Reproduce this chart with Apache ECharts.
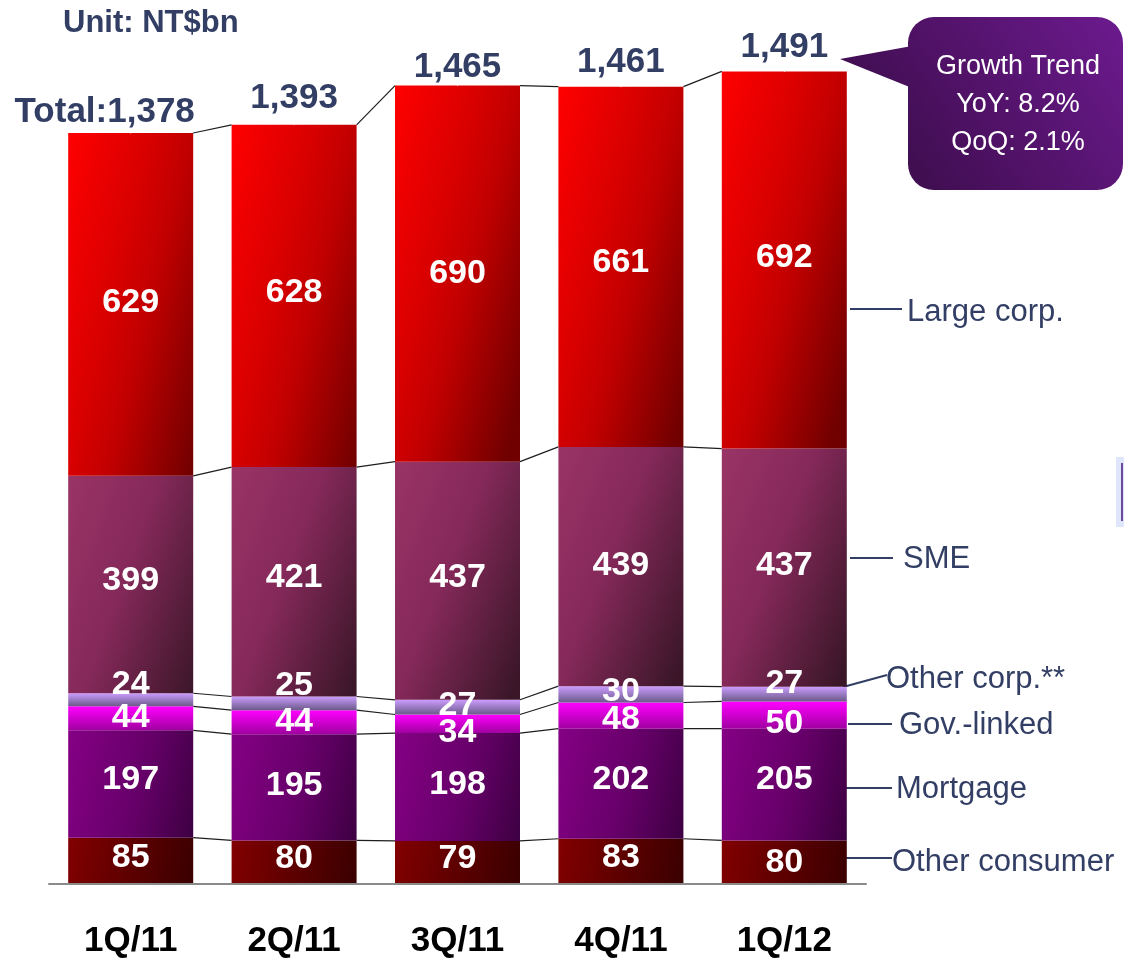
<!DOCTYPE html>
<html><head><meta charset="utf-8">
<script src="https://cdn.jsdelivr.net/npm/echarts@6/dist/echarts.min.js"></script>
<style>html,body{margin:0;padding:0;background:#fff}#c{width:1124px;height:960px}</style>
</head><body><div id="c"></div>
<script>
// ---- data ----
const categories = ['1Q/11', '2Q/11', '3Q/11', '4Q/11', '1Q/12'];
const seriesNames = ['Other consumer', 'Mortgage', 'Gov.-linked', 'Other corp.**', 'SME', 'Large corp.'];
const otherConsumer = [85, 80, 79, 83, 80];
const mortgage = [197, 195, 198, 202, 205];
const govLinked = [44, 44, 34, 48, 50];
const otherCorp = [24, 25, 27, 30, 27];
const sme = [399, 421, 437, 439, 437];
const largeCorp = [629, 628, 690, 661, 692];
const totals = [1378, 1393, 1465, 1461, 1491];
const unitText = 'Unit: NT$bn';
const totalPrefix = 'Total:';
const calloutLines = ['Growth Trend', 'YoY: 8.2%', 'QoQ: 2.1%'];

const values = [otherConsumer, mortgage, govLinked, otherCorp, sme, largeCorp];

// ---- styles ----
const FONT = 'Liberation Sans, Arial, Helvetica, sans-serif';
const NAVY = '#323e64';
function grad(x2, y2, stops) {
  return { type: 'linear', x: 0, y: 0, x2: x2, y2: y2,
    colorStops: stops.map(s => ({ offset: s[0], color: s[1] })) };
}
const fills = [
  grad(1.2, 0.6, [[0, '#820000'], [1, '#2e0000']]),
  grad(1.3, 0.35, [[0, '#850085'], [0.5, '#650068'], [1, '#300035']]),
  grad(0, 1, [[0, '#ff00ff'], [1, '#a000a0']]),
  grad(0, 1, [[0, '#cc9cff'], [1, '#6a5a88']]),
  grad(1.45, 0.3, [[0, '#9a3466'], [0.45, '#85295a'], [1, '#3a1628']]),
  grad(1.57, 0.14, [[0, '#ff0000'], [0.4, '#d80000'], [0.6, '#c00000'], [1, '#700000']])
];
const labelNudge = [
  [-3, -4, -4, -4, 0],
  [-4, -2, -2, -4, -5],
  [-1, -1, 9, 4, 9],
  [-15, -18, -2, -3, -10],
  [-4, -4, -3, -1, -2],
  [-2, -3, 0, -4, -2]
];
const totalNudge = [[-26, 2], [0, -3], [0, 5], [0, -1], [0, -1]];
const BAR_W = 125;

// cumulative stack tops
const cum = categories.map((c, i) => {
  let s = 0;
  return values.map(v => (s += v[i]));
});
const fmt = n => n.toLocaleString('en-US');

const series = values.map((vals, k) => ({
  name: seriesNames[k],
  type: 'bar',
  stack: 'total',
  barWidth: BAR_W,
  itemStyle: { color: fills[k] },
  label: { show: true, position: 'inside', color: '#fff', fontFamily: FONT,
    fontWeight: 'bold', fontSize: 34, textBorderWidth: 0 },
  emphasis: { disabled: true },
  data: vals.map((v, i) => ({ value: v, label: { offset: [0, labelNudge[k][i]] } }))
}));

series.push({
  type: 'custom',
  silent: true,
  z: 1,
  encode: { x: 0, y: 1 },
  data: categories.slice(0, -1).map((c, i) => [i, 0]),
  renderItem: function (params, api) {
    const i = api.value(0);
    const half = BAR_W / 2;
    const children = cum[i].map((_, k) => {
      const a = api.coord([i, cum[i][k]]);
      const b = api.coord([i + 1, cum[i + 1][k]]);
      return { type: 'line',
        shape: { x1: a[0] + half, y1: a[1], x2: b[0] - half, y2: b[1] },
        style: { stroke: '#1e1e1e', lineWidth: 1.2 } };
    });
    return { type: 'group', children: children };
  }
});

series.push({
  type: 'scatter',
  silent: true,
  symbolSize: 1,
  itemStyle: { color: '#ffffff', opacity: 1 },
  emphasis: { disabled: true },
  label: { show: true, position: 'top', distance: 5, color: NAVY, opacity: 1,
    textBorderWidth: 0, fontFamily: FONT, fontWeight: 'bold', fontSize: 35 },
  data: categories.map((c, i) => ({
    value: [i, cum[i][cum[i].length - 1]],
    label: { offset: totalNudge[i],
      formatter: (i === 0 ? totalPrefix : '') + fmt(totals[i]) }
  }))
});

// side labels (text from seriesNames)
const sideLabels = [
  { name: 5, tx: 907, ty: 312, line: [850, 309, 902, 309] },
  { name: 4, tx: 903, ty: 559, line: [850, 558, 893, 558] },
  { name: 3, tx: 886, ty: 679, line: [843, 687, 887, 675] },
  { name: 2, tx: 899, ty: 725, line: [848, 724, 892, 724] },
  { name: 1, tx: 896, ty: 789, line: [845, 788, 892, 788] },
  { name: 0, tx: 892, ty: 862, line: [845, 858, 892, 858] }
];
const graphics = [];
sideLabels.forEach(s => {
  graphics.push({ type: 'line', silent: true,
    shape: { x1: s.line[0], y1: s.line[1], x2: s.line[2], y2: s.line[3] },
    style: { stroke: NAVY, lineWidth: 2 } });
  graphics.push({ type: 'text', silent: true, x: s.tx, y: s.ty,
    style: { text: seriesNames[s.name], fill: NAVY, font: '31px ' + FONT,
      textVerticalAlign: 'middle', textAlign: 'left' } });
});
graphics.push({ type: 'text', x: 63, y: 23,
  style: { text: unitText, fill: NAVY, font: 'bold 31px ' + FONT,
    textVerticalAlign: 'middle' } });

const calloutFill = { type: 'linear', global: true, x: 880, y: 190, x2: 1120, y2: 17,
  colorStops: [{ offset: 0, color: '#3a0c48' }, { offset: 1, color: '#6c1a8e' }] };
graphics.push({ type: 'polygon', silent: true,
  shape: { points: [[840, 59], [912, 46], [912, 88]] }, style: { fill: calloutFill } });
graphics.push({ type: 'rect', silent: true,
  shape: { x: 908, y: 17, width: 215, height: 173, r: 26 }, style: { fill: calloutFill } });
calloutLines.forEach((t, j) => {
  graphics.push({ type: 'text', silent: true, x: 1018, y: 67 + j * 38,
    style: { text: t, fill: '#fff', font: '27px ' + FONT,
      textAlign: 'center', textVerticalAlign: 'middle' } });
});
// small marker at right edge
graphics.push({ type: 'rect', silent: true, shape: { x: 1116, y: 457, width: 8, height: 70 },
  style: { fill: '#dfe6fb' } });
graphics.push({ type: 'rect', silent: true, shape: { x: 1121, y: 463, width: 2, height: 58 },
  style: { fill: '#6a4a9a' } });

const chart = echarts.init(document.getElementById('c'), null, { renderer: 'canvas' });
chart.setOption({
  animation: false,
  backgroundColor: '#fff',
  grid: { left: 49, right: 258, top: 12, bottom: 76, containLabel: false },
  xAxis: {
    type: 'category',
    data: categories,
    axisLine: { show: true, lineStyle: { color: '#8a8a8a', width: 2 } },
    axisTick: { show: false },
    axisLabel: { color: '#000', fontFamily: FONT, fontWeight: 'bold', fontSize: 35, margin: 40 },
    z: 5
  },
  yAxis: { type: 'value', min: 0, max: 1600, show: false, splitLine: { show: false } },
  series: series,
  graphic: graphics
});
</script></body></html>
